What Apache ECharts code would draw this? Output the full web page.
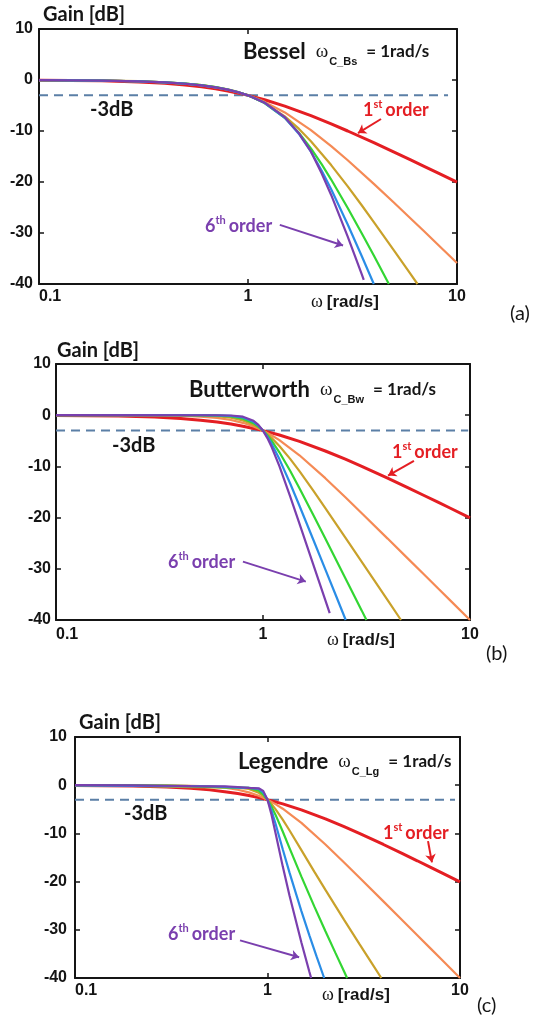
<!DOCTYPE html>
<html>
<head>
<meta charset="utf-8">
<script src="https://cdn.jsdelivr.net/npm/echarts@6/dist/echarts.min.js"></script>
<style>
  html, body { margin: 0; padding: 0; background: #ffffff; }
  #chart { width: 533px; height: 1019px; }
</style>
</head>
<body>
<div id="chart"></div>
<script>
// Low-pass magnitude responses, cut-off normalised to 1 rad/s.
// Each curve is a list of [omega (rad/s), gain (dB)] pairs.

// First-order section (same for all three families)
const FIRST_ORDER = [[0.1,-0.04],[0.2,-0.17],[0.3,-0.37],[0.4,-0.65],[0.5,-0.97],[0.6,-1.34],[0.7,-1.73],[0.8,-2.15],[0.9,-2.58],[1,-3.01],[1.2,-3.87],[1.5,-5.12],[2,-6.99],[2.5,-8.6],[3,-10],[4,-12.3],[5,-14.15],[6,-15.68],[7,-16.99],[8,-18.13],[10,-20.04]];

// Bessel, orders 2..6
const BESSEL_2 = [[0.1,-0.03],[0.2,-0.11],[0.3,-0.25],[0.4,-0.45],[0.5,-0.71],[0.6,-1.05],[0.7,-1.44],[0.8,-1.91],[0.9,-2.43],[1,-3.01],[1.1,-3.63],[1.2,-4.29],[1.5,-6.36],[2,-9.82],[2.5,-12.96],[3,-15.74],[4,-20.36],[5,-24.07],[6,-27.15],[7,-29.77],[8,-32.06],[10,-35.89]];
const BESSEL_3 = [[0.1,-0.03],[0.2,-0.11],[0.3,-0.24],[0.4,-0.44],[0.5,-0.69],[0.6,-1.01],[0.7,-1.39],[0.8,-1.85],[0.9,-2.39],[1,-3.01],[1.2,-4.48],[1.5,-7.12],[1.75,-9.54],[2,-12.0],[2.5,-16.68],[3,-20.86],[3.5,-24.56],[4,-27.85],[5,-33.44],[6,-38.08],[6.47,-40]];
const BESSEL_4 = [[0.1,-0.03],[0.2,-0.11],[0.3,-0.25],[0.4,-0.45],[0.5,-0.71],[0.6,-1.02],[0.7,-1.41],[0.8,-1.86],[0.9,-2.4],[1,-3.01],[1.2,-4.51],[1.5,-7.42],[1.75,-10.32],[2,-13.4],[2.25,-16.51],[2.5,-19.52],[3,-25.09],[3.5,-30.04],[4,-34.43],[4.5,-38.37],[4.72,-40]];
const BESSEL_5 = [[0.1,-0.03],[0.2,-0.11],[0.3,-0.26],[0.4,-0.46],[0.5,-0.72],[0.6,-1.04],[0.7,-1.43],[0.8,-1.88],[0.9,-2.41],[1,-3.01],[1.2,-4.48],[1.5,-7.41],[1.75,-10.53],[2,-14.06],[2.25,-17.76],[2.5,-21.43],[3,-28.34],[3.5,-34.52],[4,-40]];
const BESSEL_6 = [[0.1,-0.03],[0.2,-0.12],[0.3,-0.26],[0.4,-0.46],[0.5,-0.73],[0.6,-1.05],[0.7,-1.44],[0.8,-1.89],[0.9,-2.42],[1,-3.01],[1.2,-4.44],[1.5,-7.29],[1.75,-10.42],[2,-14.0],[2.25,-18.3],[2.5,-22.54],[3,-30.7],[3.5,-38.08],[3.58,-39.2]];

// Butterworth, orders 2..6
const BUTTER_2 = [[0.1,0],[0.2,-0.01],[0.3,-0.04],[0.4,-0.11],[0.5,-0.26],[0.6,-0.53],[0.7,-0.94],[0.8,-1.49],[0.9,-2.19],[0.95,-2.59],[1,-3.01],[1.1,-3.92],[1.2,-4.88],[1.5,-7.83],[2,-12.3],[2.5,-16.03],[3,-19.14],[4,-24.1],[5,-27.97],[6,-31.13],[7,-33.8],[8,-36.12],[10,-40]];
const BUTTER_3 = [[0.1,0],[0.3,0],[0.4,-0.02],[0.5,-0.07],[0.6,-0.2],[0.7,-0.48],[0.8,-1.01],[0.9,-1.85],[0.95,-2.39],[1,-3.01],[1.1,-4.43],[1.2,-6.01],[1.35,-8.48],[1.5,-10.93],[1.75,-14.73],[2,-18.13],[2.5,-23.89],[3,-28.63],[4,-36.12],[4.64,-40]];
const BUTTER_4 = [[0.1,0],[0.4,0],[0.5,-0.02],[0.6,-0.07],[0.7,-0.24],[0.8,-0.67],[0.9,-1.56],[0.95,-2.21],[1,-3.01],[1.05,-3.94],[1.1,-4.97],[1.2,-7.24],[1.35,-10.8],[1.5,-14.25],[1.75,-19.49],[2,-24.1],[2.5,-31.84],[3,-38.17],[3.16,-40]];
const BUTTER_5 = [[0.1,0],[0.5,0],[0.6,-0.03],[0.7,-0.12],[0.8,-0.44],[0.9,-1.3],[0.95,-2.04],[1,-3.01],[1.05,-4.2],[1.1,-5.56],[1.2,-8.57],[1.35,-13.24],[1.5,-17.68],[1.75,-24.32],[2,-30.11],[2.25,-35.22],[2.51,-40]];
const BUTTER_6 = [[0.1,0],[0.6,-0.01],[0.7,-0.06],[0.8,-0.29],[0.9,-1.08],[0.95,-1.88],[1,-3.01],[1.05,-4.47],[1.1,-6.17],[1.2,-9.96],[1.35,-15.76],[1.5,-21.16],[1.75,-29.17],[2,-36.12],[2.1,-38.67]];

// Legendre (optimum-L), orders 2..6; the 2nd-order optimum-L filter is the Butterworth one
const LEGENDRE_2 = [[0.1,0],[0.2,-0.01],[0.3,-0.04],[0.4,-0.11],[0.5,-0.26],[0.6,-0.53],[0.7,-0.94],[0.8,-1.49],[0.9,-2.19],[0.95,-2.59],[1,-3.01],[1.1,-3.92],[1.2,-4.88],[1.5,-7.83],[2,-12.3],[2.5,-16.03],[3,-19.14],[4,-24.1],[5,-27.97],[6,-31.13],[7,-33.8],[8,-36.12],[10,-40]];
const LEGENDRE_3 = [[0.1,-0.04],[0.2,-0.15],[0.3,-0.29],[0.4,-0.4],[0.5,-0.45],[0.6,-0.46],[0.7,-0.5],[0.8,-0.78],[0.9,-1.57],[0.95,-2.21],[1,-3.01],[1.05,-3.94],[1.1,-4.96],[1.2,-7.14],[1.3,-9.35],[1.5,-13.47],[1.75,-17.93],[2,-21.73],[2.5,-27.94],[3,-32.93],[3.5,-37.06],[3.9,-40]];
const LEGENDRE_4 = [[0.1,0],[0.2,-0.02],[0.3,-0.08],[0.4,-0.2],[0.5,-0.36],[0.6,-0.48],[0.7,-0.51],[0.8,-0.56],[0.9,-1.14],[0.95,-1.88],[1,-3.01],[1.05,-4.46],[1.1,-6.11],[1.2,-9.61],[1.3,-12.99],[1.5,-18.97],[1.75,-25.15],[2,-30.31],[2.25,-34.74],[2.5,-38.65],[2.59,-40]];
const LEGENDRE_5 = [[0.1,-0.04],[0.2,-0.12],[0.3,-0.18],[0.4,-0.19],[0.5,-0.22],[0.6,-0.33],[0.7,-0.5],[0.8,-0.57],[0.9,-0.78],[0.95,-1.48],[1,-3.01],[1.05,-5.29],[1.1,-7.95],[1.2,-13.28],[1.3,-18.09],[1.5,-26.12],[1.65,-31.15],[1.8,-35.57],[1.97,-40]];
const LEGENDRE_6 = [[0.1,0],[0.2,-0.03],[0.3,-0.11],[0.4,-0.2],[0.5,-0.23],[0.6,-0.25],[0.7,-0.37],[0.8,-0.57],[0.9,-0.64],[0.95,-1.18],[1,-3.01],[1.05,-6.18],[1.1,-9.85],[1.2,-16.84],[1.3,-22.84],[1.5,-32.63],[1.65,-38.7],[1.685,-40]];

// Axis ranges and ticks
const OMEGA_MIN = 0.1, OMEGA_MAX = 10;
const GAIN_MIN = -40, GAIN_MAX = 10, GAIN_STEP = 10;
const CUTOFF_DB = -3;

// Styling
const INK = '#151515';
const ORDER_COLORS = ['#e41e23', '#f58a55', '#c9a12a', '#33d633', '#2a8de6', '#7a3fae'];
const ORDER_WIDTHS = [3, 2.2, 2.2, 2.2, 2.2, 2.2];
const DASH_COLOR = '#5b7fa6';

const PANELS = [
  {
    curves: [FIRST_ORDER, BESSEL_2, BESSEL_3, BESSEL_4, BESSEL_5, BESSEL_6],
    grid: { left: 39, top: 29, width: 418, height: 255 },
    yLabelMargin: 6, xLabelMargin: 5,
    dashEnd: 9.06,
    arrowFirst: [[4.33, -7.65], [3.36, -10.4]],
    arrowSixth: [[1.42, -28.4], [2.85, -32.45]],
    name: 'Bessel', sub: 'C_Bs', tag: '(a)',
    at: { gain: [43, 15], title: [243, 52], cut: [90, 110], first: [363, 110], sixth: [205, 226], omega: [311, 302], tag: [510, 314] }
  },
  {
    curves: [FIRST_ORDER, BUTTER_2, BUTTER_3, BUTTER_4, BUTTER_5, BUTTER_6],
    grid: { left: 56, top: 364, width: 414, height: 256 },
    yLabelMargin: 5, xLabelMargin: 7,
    dashEnd: 9.8,
    arrowFirst: [[5.36, -8.9], [4.02, -11.8]],
    arrowSixth: [[0.80, -28.6], [1.61, -32.5]],
    name: 'Butterworth', sub: 'C_Bw', tag: '(b)',
    at: { gain: [57, 351], title: [189, 390], cut: [112, 446], first: [392, 452], sixth: [168, 562], omega: [327, 640], tag: [486, 654] }
  },
  {
    curves: [FIRST_ORDER, LEGENDRE_2, LEGENDRE_3, LEGENDRE_4, LEGENDRE_5, LEGENDRE_6],
    grid: { left: 75, top: 737, width: 385, height: 241 },
    yLabelMargin: 8, xLabelMargin: 5,
    dashEnd: 9.42,
    arrowFirst: [[6.82, -11.6], [7.15, -16.0]],
    arrowSixth: [[0.72, -32.2], [1.46, -35.7]],
    name: 'Legendre', sub: 'C_Lg', tag: '(c)',
    at: { gain: [79, 723], title: [238, 762], cut: [124, 814], first: [383, 833], sixth: [168, 934], omega: [322, 995], tag: [477, 1006] }
  }
];

const TICK_FONT = { fontFamily: 'Liberation Sans', fontWeight: 'bold', fontSize: 16, color: INK };

function frame(color, width) {
  return { show: true, onZero: false, lineStyle: { color: color, width: width } };
}
const innerTicks = { show: true, inside: true, length: 5, lineStyle: { color: INK, width: 1.5 } };

const grids = [], xAxes = [], yAxes = [], series = [], graphics = [];

function text(x, y, str, rich) {
  graphics.push({
    type: 'text', x: x, y: y, silent: true, z: 100,
    style: { text: str, rich: rich, align: 'left', verticalAlign: 'middle', textAlign: 'left', textVerticalAlign: 'middle' }
  });
}

PANELS.forEach(function (p, i) {
  grids.push(Object.assign({ containLabel: false, outerBoundsMode: 'none' }, p.grid));

  const xBase = {
    type: 'log', logBase: 10, min: OMEGA_MIN, max: OMEGA_MAX, gridIndex: i,
    axisLine: frame(INK, 2), axisTick: innerTicks,
    splitLine: { show: false }, minorTick: { show: false }, minorSplitLine: { show: false }
  };
  xAxes.push(Object.assign({}, xBase, {
    position: 'bottom',
    axisLabel: Object.assign({
      show: true, margin: p.xLabelMargin, alignMinLabel: 'left',
      formatter: function (v) { return v < 1 ? v.toFixed(1) : String(Math.round(v)); }
    }, TICK_FONT)
  }));
  xAxes.push(Object.assign({}, xBase, { position: 'top', axisLabel: { show: false } }));

  const yBase = {
    type: 'value', min: GAIN_MIN, max: GAIN_MAX, interval: GAIN_STEP, gridIndex: i,
    axisLine: frame(INK, 2), axisTick: innerTicks, splitLine: { show: false }
  };
  yAxes.push(Object.assign({}, yBase, {
    position: 'left',
    axisLabel: Object.assign({ show: true, margin: p.yLabelMargin }, TICK_FONT)
  }));
  yAxes.push(Object.assign({}, yBase, { position: 'right', axisLabel: { show: false } }));

  const xi = 2 * i, yi = 2 * i;

  // -3 dB reference line, carrying the two pointer arrows as mark lines
  series.push({
    type: 'line', xAxisIndex: xi, yAxisIndex: yi, z: 1,
    data: [[OMEGA_MIN, CUTOFF_DB], [p.dashEnd, CUTOFF_DB]],
    showSymbol: false, symbol: 'none', silent: true, animation: false,
    lineStyle: { color: DASH_COLOR, width: 2, type: [9, 6] },
    markLine: {
      silent: true, animation: false, symbol: ['none', 'arrow'], symbolSize: 8,
      label: { show: false }, emphasis: { disabled: true },
      data: [
        [{ coord: p.arrowFirst[0], lineStyle: { color: ORDER_COLORS[0], width: 2, type: 'solid' } },
         { coord: p.arrowFirst[1] }],
        [{ coord: p.arrowSixth[0], lineStyle: { color: ORDER_COLORS[5], width: 2, type: 'solid' } },
         { coord: p.arrowSixth[1] }]
      ]
    }
  });

  p.curves.forEach(function (curve, k) {
    series.push({
      type: 'line', xAxisIndex: xi, yAxisIndex: yi, z: 2 + k,
      data: curve, showSymbol: false, symbol: 'none', silent: true, animation: false, clip: true,
      lineStyle: { color: ORDER_COLORS[k], width: ORDER_WIDTHS[k] }
    });
  });

  const a = p.at;
  text(a.gain[0], a.gain[1], '{g|Gain [dB]}', { g: { font: 'bold 20px Lato', fill: INK } });
  text(a.title[0], a.title[1], '{t|' + p.name + '}{w|ω}{s|' + p.sub + '}{e|= 1rad/s}', {
    t: { font: 'bold 22px Lato', fill: INK, lineHeight: 30 },
    w: { font: '19px "Liberation Serif"', fill: INK, lineHeight: 30, padding: [0, 1, 0, 10] },
    s: { font: 'bold 11px "Liberation Sans"', fill: INK, lineHeight: 12, verticalAlign: 'bottom' },
    e: { font: 'bold 17px Lato', fill: INK, lineHeight: 30, padding: [0, 0, 0, 9] }
  });
  text(a.cut[0], a.cut[1], '{c|-3dB}', { c: { font: 'bold 20px Lato', fill: INK } });
  const ordRich = function (col) {
    return {
      n: { font: 'bold 18px Lato', fill: col, lineHeight: 22 },
      p: { font: 'bold 11px Lato', fill: col, lineHeight: 12, verticalAlign: 'top' },
      o: { font: 'bold 18px Lato', fill: col, lineHeight: 22, padding: [0, 0, 0, 3] }
    };
  };
  text(a.first[0], a.first[1], '{n|1}{p|st}{o|order}', ordRich(ORDER_COLORS[0]));
  text(a.sixth[0], a.sixth[1], '{n|6}{p|th}{o|order}', ordRich(ORDER_COLORS[5]));
  text(a.omega[0], a.omega[1], '{w|ω}{r|[rad/s]}', {
    w: { font: '18px "Liberation Serif"', fill: INK },
    r: { font: 'bold 17px "Liberation Sans"', fill: INK, padding: [0, 0, 0, 4] }
  });
  text(a.tag[0], a.tag[1], '{l|' + p.tag + '}', { l: { font: '20px Lato', fill: INK } });
});

const chart = echarts.init(document.getElementById('chart'), null, { renderer: 'canvas' });
chart.setOption({
  backgroundColor: '#ffffff',
  animation: false,
  tooltip: { show: false },
  grid: grids,
  xAxis: xAxes,
  yAxis: yAxes,
  series: series,
  graphic: { elements: graphics }
});
</script>
</body>
</html>
